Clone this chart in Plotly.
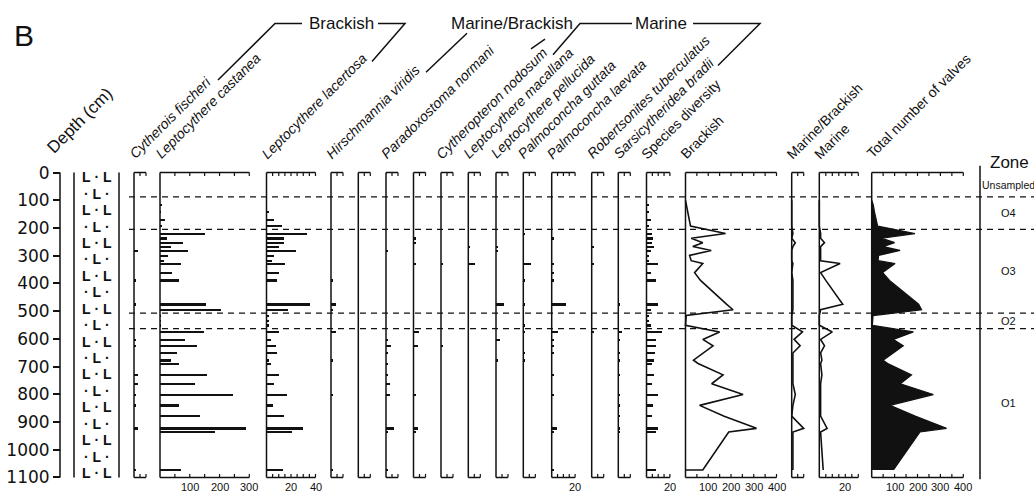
import plotly.graph_objects as go

# ---------------------------------------------------------------- data ----
depth_cm = [100, 117, 141, 170, 193, 220, 237, 253, 267, 281, 299, 318, 328, 361,
            389, 475, 495, 516, 534, 551, 575, 602, 625, 651, 677, 689, 730, 762,
            801, 840, 879, 923, 936, 1073]

cytherois_fischeri = [0, 0, 0, 0, 0, 0, 0, 0, 0, 3, 0, 0, 0, 0, 1, 2, 0,
                      0, 0, 0, 0, 1, 1, 0, 0, 0, 3, 3, 2, 1, 0, 3, 0, 2]
leptocythere_castanea = [0, 7, 2, 17, 7, 150, 25, 76, 36, 93, 28, 13, 69, 40, 63, 155, 204,
                         2, 3, 3, 148, 83, 123, 58, 36, 63, 159, 116, 244, 63, 134, 289, 186, 69]
leptocythere_lacertosa = [0, 0, 1, 6, 12, 33, 14, 14, 10, 24, 6, 4, 15, 10, 8, 35, 17,
                          1, 1, 2, 10, 3, 7, 8, 1, 3, 10, 6, 16, 5, 14, 29, 20, 13]
hirschmannia_viridis = [0, 0, 0, 0, 0, 0, 0, 0, 0, 0, 0, 0, 0, 0, 2, 4, 2,
                        0, 0, 0, 4, 0, 0, 0, 1, 0, 0, 0, 1, 0, 0, 0, 0, 2]
unnamed_column_a = [0, 0, 0, 0, 0, 0, 0, 0, 0, 0, 0, 0, 0, 0, 0, 0, 0,
                    0, 0, 0, 0, 0, 0, 0, 0, 0, 0, 0, 0, 0, 0, 0, 0, 0]
paradoxostoma_normani = [0, 0, 0, 0, 0, 0, 0, 0, 0, 1, 0, 0, 0, 0, 0, 0, 0,
                         0, 0, 0, 0, 2, 4, 2, 0, 2, 2, 3, 3, 0, 0, 7, 2, 1]
unnamed_column_b = [0, 0, 0, 0, 0, 0, 1, 1, 0, 0, 0, 0, 1, 0, 0, 0, 0,
                    0, 0, 0, 4, 0, 3, 0, 0, 0, 0, 0, 1, 0, 0, 3, 2, 0]
cytheropteron_nodosum = [0, 0, 0, 0, 0, 0, 0, 0, 0, 0, 0, 0, 2, 0, 0, 0, 0,
                         0, 0, 0, 0, 0, 1, 0, 0, 0, 0, 0, 0, 0, 0, 0, 0, 0]
leptocythere_macallana = [0, 0, 0, 0, 0, 0, 0, 0, 1, 0, 0, 0, 6, 0, 0, 0, 0,
                          0, 0, 0, 0, 0, 0, 0, 0, 0, 0, 0, 0, 0, 0, 0, 0, 0]
leptocythere_pellucida = [0, 0, 0, 0, 0, 0, 0, 0, 2, 1, 0, 0, 0, 0, 0, 7, 0,
                          0, 0, 0, 0, 3, 0, 0, 1, 0, 0, 0, 0, 0, 0, 0, 0, 0]
palmoconcha_guttata = [0, 0, 0, 0, 0, 2, 0, 0, 0, 0, 0, 0, 7, 0, 1, 1, 0,
                       0, 0, 1, 2, 0, 0, 1, 1, 0, 0, 0, 0, 0, 0, 0, 0, 0]
palmoconcha_laevata = [0, 0, 0, 0, 0, 0, 1, 0, 0, 0, 0, 0, 1, 1, 2, 12, 0,
                       0, 0, 0, 5, 2, 1, 2, 0, 0, 1, 0, 1, 0, 0, 4, 1, 1]
robertsonites_tuberculatus = [0, 0, 0, 0, 0, 0, 0, 0, 2, 0, 0, 0, 2, 0, 0, 0, 0,
                              0, 0, 0, 1, 0, 0, 0, 0, 0, 0, 0, 0, 0, 0, 0, 0, 0]
sarsicytheridea_bradii = [0, 0, 0, 0, 0, 0, 0, 0, 0, 0, 0, 0, 0, 0, 0, 1, 0,
                          0, 0, 0, 3, 2, 0, 1, 1, 0, 2, 0, 1, 1, 1, 2, 1, 0]
species_diversity = [0, 2, 2, 3, 2, 4, 5, 4, 6, 3, 2, 2, 9, 3, 8, 9, 3,
                     2, 2, 3, 13, 8, 8, 7, 6, 4, 6, 4, 9, 5, 4, 9, 8, 8]
brackish_valves = [0, 4, 8, 15, 22, 176, 25, 76, 32, 113, 18, 25, 76, 40, 66, 180, 209,
                   3, 1, 0, 150, 76, 121, 80, 35, 55, 165, 115, 253, 62, 170, 312, 190, 76]
marine_brackish_valves = [0, 0, 0, 0, 0, 1, 0, 3, 1, 0, 0, 0, 1, 0, 1, 1, 1,
                          0, 0, 0, 9, 2, 7, 1, 1, 1, 1, 1, 3, 1, 0, 10, 1, 1]
marine_valves = [0, 0, 0, 0, 0, 1, 1, 4, 1, 1, 1, 1, 16, 1, 5, 18, 1,
                 0, 0, 0, 10, 1, 4, 1, 2, 1, 2, 1, 1, 1, 1, 6, 1, 3]
total_valves = [0, 7, 12, 19, 26, 189, 45, 100, 50, 124, 30, 28, 102, 48, 78, 205, 218,
                6, 4, 3, 182, 95, 138, 95, 50, 70, 174, 125, 269, 80, 190, 327, 211, 95]

zone_bounds_cm = [88, 205, 507, 563]
zone_names = ["Unsampled", "O4", "O3", "O2", "O1"]
depth_ticks = [0, 100, 200, 300, 400, 500, 600, 700, 800, 900, 1000, 1100]
lithology_rows = ["<b>L\u00a0·\u00a0L</b>", "<b>·\u00a0L\u00a0·</b>"]

# -------------------------------------------------------------- layout ----
W, H = 1034, 499
INK = "#111111"
FONT = "Liberation Sans, Arial, sans-serif"
Y_TOP, Y_BOT, D_MAX = 170, 483, 1100
K = (Y_BOT - Y_TOP) / D_MAX          # px per cm
D_LO, D_HI = -10, 1115               # padded depth range of the plot area
TICK_D = 3.5 / K                     # 3.5 px tick expressed in cm


def px(x):
    return x / W


def py(y):
    return 1 - y / H


def ypix(d):
    return Y_TOP + d * K


# (title, italic, axis x px, scale max, tick step, px per unit, data max, kind, series, tick labels)
panels = [
    ("Cytherois fischeri", True, 134, 10, 5, 1.2, 10, "bar", cytherois_fischeri, []),
    ("Leptocythere castanea", True, 160, 300, 50, 0.2977, 300, "bar", leptocythere_castanea, [100, 200, 300]),
    ("Leptocythere lacertosa", True, 266.5, 40, 5, 1.225, 40, "bar", leptocythere_lacertosa, [20, 40]),
    ("Hirschmannia viridis", True, 331, 10, 5, 1.2, 10, "bar", hirschmannia_viridis, []),
    ("", True, 358.3, 10, 5, 1.2, 10, "bar", unnamed_column_a, []),
    ("Paradoxostoma normani", True, 386, 10, 5, 1.2, 10, "bar", paradoxostoma_normani, []),
    ("", True, 413.5, 10, 5, 1.2, 10, "bar", unnamed_column_b, []),
    ("Cytheropteron nodosum", True, 441, 10, 5, 1.2, 10, "bar", cytheropteron_nodosum, []),
    ("Leptocythere macallana", True, 468.3, 10, 5, 1.2, 10, "bar", leptocythere_macallana, []),
    ("Leptocythere pellucida", True, 496, 10, 5, 1.2, 10, "bar", leptocythere_pellucida, []),
    ("Palmoconcha guttata", True, 523.3, 10, 5, 1.2, 10, "bar", palmoconcha_guttata, []),
    ("Palmoconcha laevata", True, 551.7, 20, 5, 1.17, 20, "bar", palmoconcha_laevata, [20]),
    ("Robertsonites tuberculatus", True, 591.7, 10, 5, 1.2, 10, "bar", robertsonites_tuberculatus, []),
    ("Sarsicytheridea bradii", True, 618.3, 10, 5, 1.2, 10, "bar", sarsicytheridea_bradii, []),
    ("Species diversity", False, 646.5, 20, 5, 1.17, 20, "bar", species_diversity, [20]),
    ("Brackish", False, 685.5, 400, 50, 0.2275, 400, "line", brackish_valves, [100, 200, 300, 400]),
    ("Marine/Brackish", False, 791.7, 10, 5, 1.2, 12, "line", marine_brackish_valves, []),
    ("Marine", False, 819.3, 30, 5, 1.3, 30, "line", marine_valves, [20]),
    ("Total number of valves", False, 871.7, 400, 50, 0.229, 400, "area", total_valves, [100, 200, 300, 400]),
]

fig = go.Figure()
layout = {}
shapes = []
annotations = []


def text_at(text, x, y, size, xref="paper", yref="paper", xanchor="center", borderpad=1):
    return dict(text=text, x=x, y=y, xref=xref, yref=yref, xanchor=xanchor, yanchor="middle",
                showarrow=False, borderpad=borderpad,
                font=dict(family=FONT, size=size, color=INK))


def slanted(text, sx, sy, size, italic):
    """Text rotated 45 degrees whose baseline starts at pixel (sx, sy)."""
    c = 0.7071
    h = size * 1.2 + 2
    desc = 0.22 * size
    return dict(text=f"<i>{text}</i>" if italic else text,
                x=px(sx + c * desc - c * h), y=py(sy + c * (desc + 2)),
                xref="paper", yref="paper", xanchor="left", yanchor="bottom",
                textangle=-45, showarrow=False,
                font=dict(family=FONT, size=size, color=INK))


for k, (title, italic, x0, smax, step, ppu, dmax, kind, series, labels) in enumerate(panels, start=1):
    xid = "x" if k == 1 else f"x{k}"
    pad = 3 / ppu
    layout["xaxis" if k == 1 else f"xaxis{k}"] = dict(
        domain=[px(x0 - 3), px(x0 + dmax * ppu + 3)], range=[-pad, dmax + pad],
        anchor="y", visible=False, fixedrange=True)

    if kind == "bar":
        pts = [(v, d) for v, d in zip(series, depth_cm) if v > 0]
        if pts:
            fig.add_trace(go.Bar(x=[p[0] for p in pts], y=[p[1] for p in pts], orientation="h",
                                 width=8, marker=dict(color=INK, line=dict(width=0)),
                                 xaxis=xid, yaxis="y", hoverinfo="x+y"))
    elif kind == "line":
        xs, ys = list(series), list(depth_cm)
        if title == "Brackish":
            xs, ys = xs + [0], ys + [depth_cm[-1]]
        fig.add_trace(go.Scatter(x=xs, y=ys, mode="lines", line=dict(color=INK, width=1.6),
                                 xaxis=xid, yaxis="y"))
    else:
        fig.add_trace(go.Scatter(x=series, y=depth_cm, mode="lines", fill="tozerox",
                                 fillcolor=INK, line=dict(color=INK, width=1.2),
                                 xaxis=xid, yaxis="y"))

    # axis spine and the top / bottom count scales
    line = dict(color=INK, width=1.5)
    shapes.append(dict(type="line", xref=xid, yref="y", x0=0, x1=0, y0=0, y1=D_MAX, line=line))
    for yd, sgn in ((0, 1), (D_MAX, -1)):
        shapes.append(dict(type="line", xref=xid, yref="y", x0=0, x1=smax, y0=yd, y1=yd, line=line))
        t = step
        while t <= smax + 1e-9:
            shapes.append(dict(type="line", xref=xid, yref="y", x0=t, x1=t,
                               y0=yd, y1=yd + sgn * TICK_D, line=dict(color=INK, width=1.2)))
            t += step
    for lab in labels:
        annotations.append(text_at(str(lab), lab, py(493), 11, xref=xid))
    if title:
        annotations.append(slanted(title, x0, 158, 14, italic))

# depth axis
layout["yaxis"] = dict(domain=[py(ypix(D_HI)), py(ypix(D_LO))], range=[D_HI, D_LO],
                       anchor="free", position=px(60), side="left",
                       tickvals=depth_ticks, ticktext=[str(t) for t in depth_ticks],
                       ticks="outside", ticklen=7, tickwidth=1.5, tickcolor=INK,
                       showline=False, showgrid=False, zeroline=False, fixedrange=True,
                       tickfont=dict(family="DejaVu Sans, sans-serif", size=17, color=INK))
shapes.append(dict(type="line", xref="paper", yref="y", x0=px(60), x1=px(60), y0=0, y1=D_MAX,
                   line=dict(color=INK, width=1.5)))
annotations.append(slanted("Depth (cm)", 54, 153, 17, False))

# lithology column (sand-with-shell symbol)
for xl in (74, 119):
    shapes.append(dict(type="line", xref="paper", yref="y", x0=px(xl), x1=px(xl), y0=0, y1=D_MAX,
                       line=dict(color=INK, width=1.5)))
n_rows = 19
for i in range(n_rows):
    d = 17 + i * (1084 - 17) / (n_rows - 1)
    annotations.append(text_at(lithology_rows[i % 2], px(97), d, 14, yref="y", borderpad=0))

# zone boundaries and zone column
for b in zone_bounds_cm:
    shapes.append(dict(type="line", xref="paper", yref="y", x0=px(129), x1=1, y0=b, y1=b,
                       line=dict(color=INK, width=1.3, dash="6px,5px")))
shapes.append(dict(type="line", xref="paper", yref="paper", x0=px(980), x1=px(980),
                   y0=py(163), y1=py(485), line=dict(color=INK, width=1.5)))
edges = [0] + zone_bounds_cm + [D_MAX]
for i, name in enumerate(zone_names):
    mid = (edges[i] + edges[i + 1]) / 2
    annotations.append(text_at(name, px(1008), mid, 10.5 if i == 0 else 11, yref="y"))
annotations.append(text_at("Zone", px(1009), py(160), 17))

# ecological group headers
for text, cx in (("Brackish", 341), ("Marine/Brackish", 512), ("Marine", 661)):
    annotations.append(text_at(text, px(cx), py(17), 17))
brackets = [
    [(218, 75), (275, 17), (302, 17)],
    [(378, 17), (405, 17), (372, 56)],
    [(426, 67), (467, 27)],
    [(531, 43), (545, 33)],
    [(553, 49), (580, 17), (632, 17)],
    [(693, 17), (760, 17), (718, 60)],
]
for pts in brackets:
    path = "M" + " L".join(f"{px(x):.5f},{py(y):.5f}" for x, y in pts)
    shapes.append(dict(type="path", xref="paper", yref="paper", path=path,
                       line=dict(color=INK, width=1.5)))

annotations.append(text_at("B", px(12), py(29), 30, xanchor="left"))

fig.update_layout(**layout)
fig.update_layout(width=W, height=H, margin=dict(l=0, r=0, t=0, b=0),
                  paper_bgcolor="white", plot_bgcolor="rgba(0,0,0,0)",
                  showlegend=False, shapes=shapes, annotations=annotations,
                  bargap=0)

fig.write_html("out.html")
